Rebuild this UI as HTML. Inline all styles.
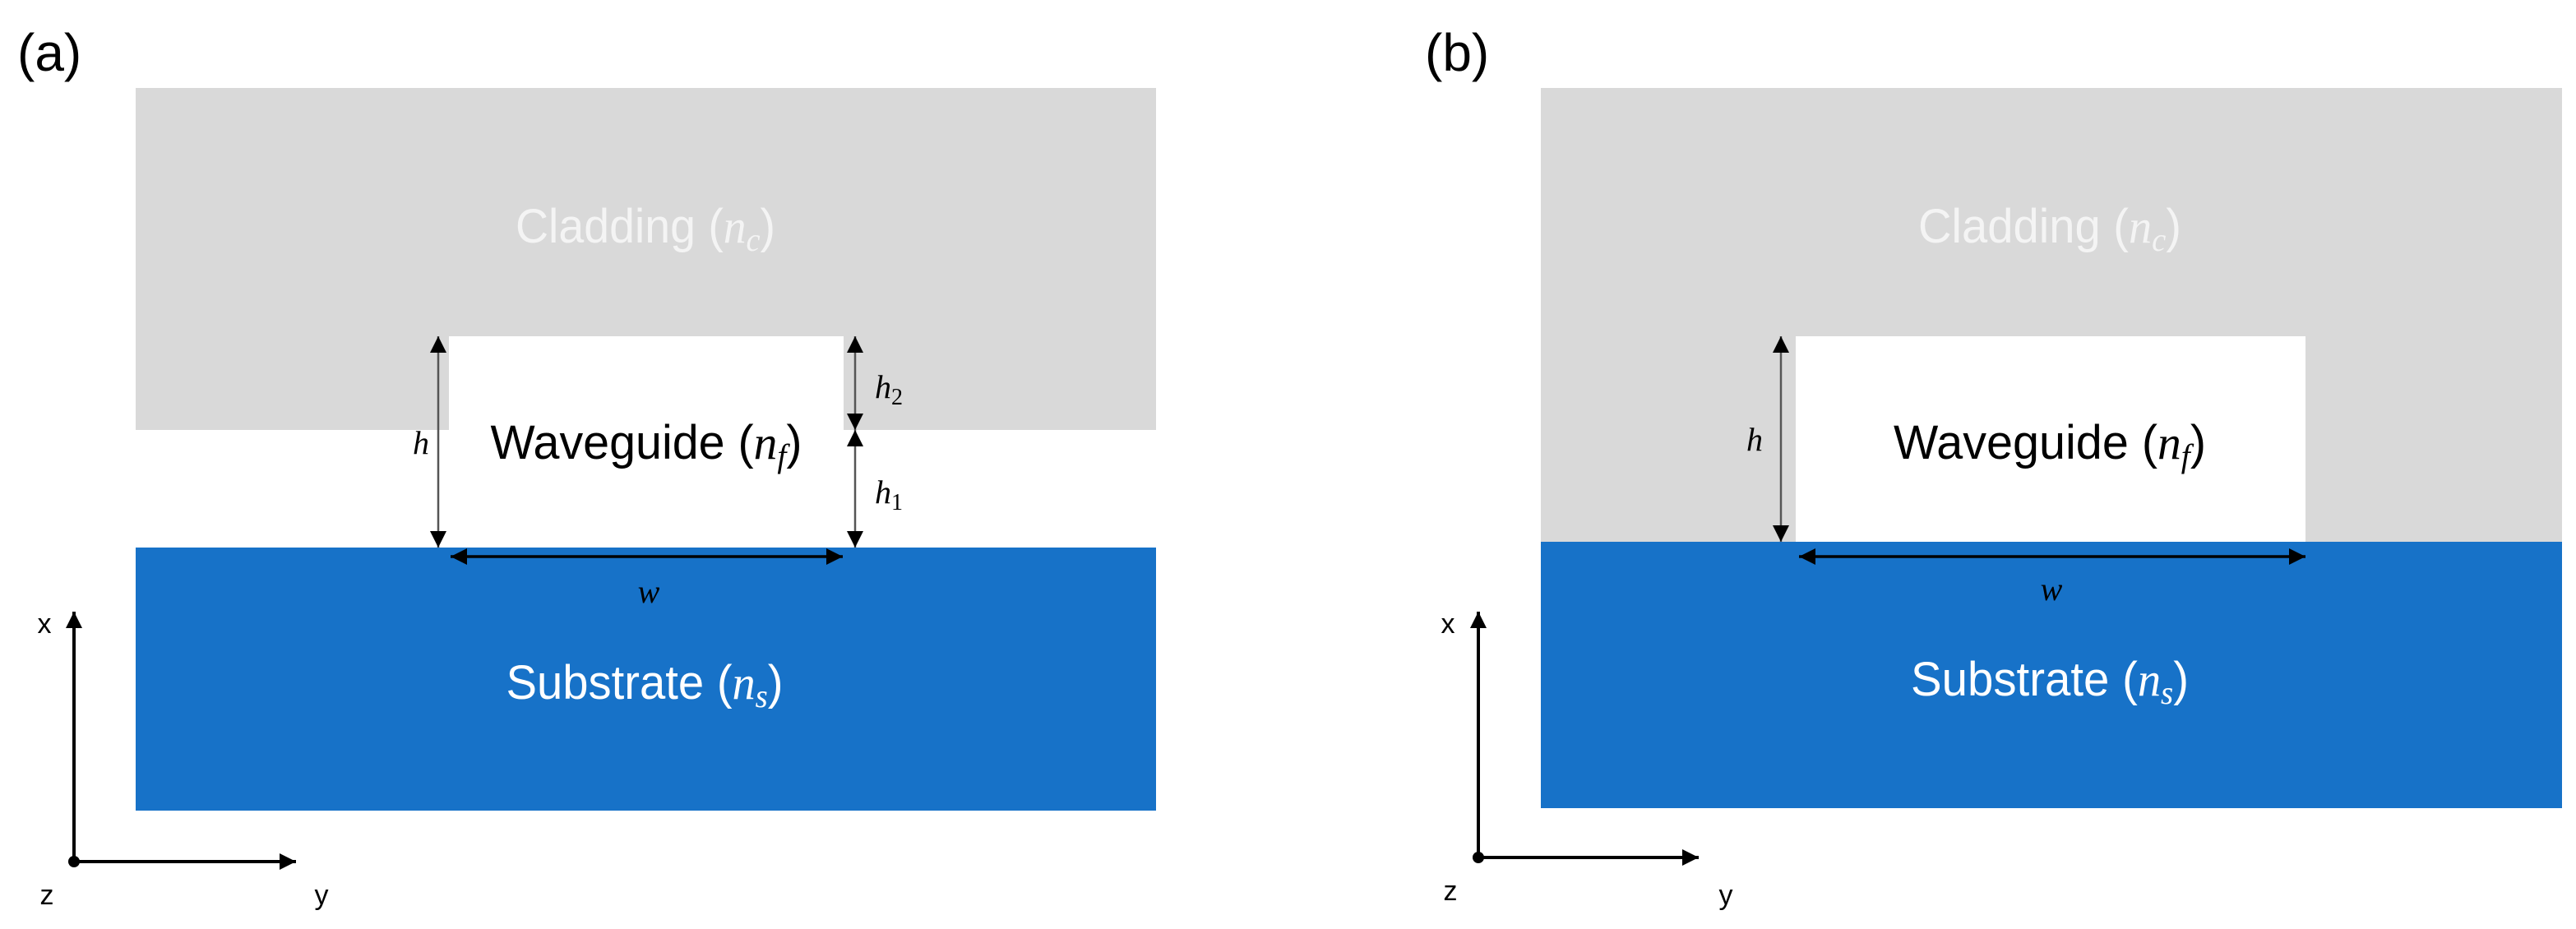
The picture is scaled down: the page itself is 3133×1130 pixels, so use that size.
<!DOCTYPE html>
<html><head><meta charset="utf-8"><style>
html,body{margin:0;padding:0;background:#fff;}
svg{display:block;}
.lbl{font-family:"Liberation Sans",sans-serif;font-size:58px;}
.m{font-family:"Liberation Serif",serif;font-style:italic;}
.ax{font-family:"Liberation Sans",sans-serif;font-size:34px;fill:#000;}
</style></head><body>
<svg width="3133" height="1130" viewBox="0 0 3133 1130" xmlns="http://www.w3.org/2000/svg">
<defs>
<marker id="ah2" viewBox="0 0 10 10" refX="10" refY="5" markerWidth="20" markerHeight="20" markerUnits="userSpaceOnUse" orient="auto-start-reverse">
<path d="M0,0 L10,5 L0,10 z" fill="#000"/></marker>
<marker id="ah3" viewBox="0 0 10 10" refX="10" refY="5" markerWidth="24" markerHeight="24" markerUnits="userSpaceOnUse" orient="auto-start-reverse">
<path d="M0,0 L10,5 L0,10 z" fill="#000"/></marker>
</defs>

<!-- Panel (a) -->
<text x="21" y="86" font-family="Liberation Sans,sans-serif" font-size="64" fill="#000">(a)</text>
<path d="M165,107 H1406 V523 H1026 V409 H546 V523 H165 Z" fill="#d9d9d9"/>
<rect x="165" y="666" width="1241" height="320" fill="#1772c8"/>
<text class="lbl" x="785" y="295" text-anchor="middle" fill="#f4f4f4" textLength="316" lengthAdjust="spacingAndGlyphs">Cladding (<tspan class="m">n</tspan><tspan class="m" font-size="40" dy="10">c</tspan><tspan dy="-10">)</tspan></text>
<text class="lbl" x="786" y="558" text-anchor="middle" fill="#000" textLength="379" lengthAdjust="spacingAndGlyphs">Waveguide (<tspan class="m">n</tspan><tspan class="m" font-size="40" dy="10">f</tspan><tspan dy="-10">)</tspan></text>
<text class="lbl" x="784" y="850" text-anchor="middle" fill="#fff" textLength="337" lengthAdjust="spacingAndGlyphs">Substrate (<tspan class="m">n</tspan><tspan class="m" font-size="40" dy="10">s</tspan><tspan dy="-10">)</tspan></text>
<!-- dims -->
<line x1="533" y1="409" x2="533" y2="666" stroke="#555" stroke-width="2.5" marker-start="url(#ah2)" marker-end="url(#ah2)"/>
<text x="512" y="552" class="m" font-size="40" text-anchor="middle">h</text>
<line x1="1040" y1="409" x2="1040" y2="523" stroke="#555" stroke-width="2.5" marker-start="url(#ah2)" marker-end="url(#ah2)"/>
<line x1="1040" y1="523" x2="1040" y2="666" stroke="#555" stroke-width="2.5" marker-start="url(#ah2)" marker-end="url(#ah2)"/>
<text x="1064" y="484" class="m" font-size="40">h<tspan font-style="normal" font-size="28" dy="8">2</tspan></text>
<text x="1064" y="612" class="m" font-size="40">h<tspan font-style="normal" font-size="28" dy="8">1</tspan></text>
<line x1="548" y1="677" x2="1025" y2="677" stroke="#000" stroke-width="3.5" marker-start="url(#ah2)" marker-end="url(#ah2)"/>
<text x="789" y="733" class="m" font-size="40" text-anchor="middle">w</text>
<!-- axes -->
<line x1="90" y1="1048" x2="90" y2="744" stroke="#000" stroke-width="4" marker-end="url(#ah2)"/>
<line x1="90" y1="1048" x2="360" y2="1048" stroke="#000" stroke-width="4" marker-end="url(#ah2)"/>
<circle cx="90" cy="1048" r="7" fill="#000"/>
<text class="ax" x="54" y="770" text-anchor="middle">x</text>
<text class="ax" x="57" y="1100" text-anchor="middle">z</text>
<text class="ax" x="391" y="1100" text-anchor="middle">y</text>

<!-- Panel (b) -->
<text x="1733" y="86" font-family="Liberation Sans,sans-serif" font-size="64" fill="#000">(b)</text>
<rect x="1874" y="107" width="1242" height="552" fill="#d9d9d9"/>
<rect x="2184" y="409" width="620" height="250" fill="#fff"/>
<rect x="1874" y="659" width="1242" height="324" fill="#1772c8"/>
<text class="lbl" x="2493" y="295" text-anchor="middle" fill="#f4f4f4" textLength="320" lengthAdjust="spacingAndGlyphs">Cladding (<tspan class="m">n</tspan><tspan class="m" font-size="40" dy="10">c</tspan><tspan dy="-10">)</tspan></text>
<text class="lbl" x="2493" y="558" text-anchor="middle" fill="#000" textLength="380" lengthAdjust="spacingAndGlyphs">Waveguide (<tspan class="m">n</tspan><tspan class="m" font-size="40" dy="10">f</tspan><tspan dy="-10">)</tspan></text>
<text class="lbl" x="2493" y="846" text-anchor="middle" fill="#fff" textLength="338" lengthAdjust="spacingAndGlyphs">Substrate (<tspan class="m">n</tspan><tspan class="m" font-size="40" dy="10">s</tspan><tspan dy="-10">)</tspan></text>
<line x1="2166" y1="409" x2="2166" y2="659" stroke="#555" stroke-width="2.5" marker-start="url(#ah2)" marker-end="url(#ah2)"/>
<text x="2134" y="548" class="m" font-size="40" text-anchor="middle">h</text>
<line x1="2188" y1="677" x2="2804" y2="677" stroke="#000" stroke-width="3.5" marker-start="url(#ah2)" marker-end="url(#ah2)"/>
<text x="2495" y="730" class="m" font-size="40" text-anchor="middle">w</text>
<line x1="1798" y1="1043" x2="1798" y2="744" stroke="#000" stroke-width="4" marker-end="url(#ah2)"/>
<line x1="1798" y1="1043" x2="2066" y2="1043" stroke="#000" stroke-width="4" marker-end="url(#ah2)"/>
<circle cx="1798" cy="1043" r="7" fill="#000"/>
<text class="ax" x="1761" y="770" text-anchor="middle">x</text>
<text class="ax" x="1764" y="1095" text-anchor="middle">z</text>
<text class="ax" x="2099" y="1100" text-anchor="middle">y</text>
</svg>
</body></html>
